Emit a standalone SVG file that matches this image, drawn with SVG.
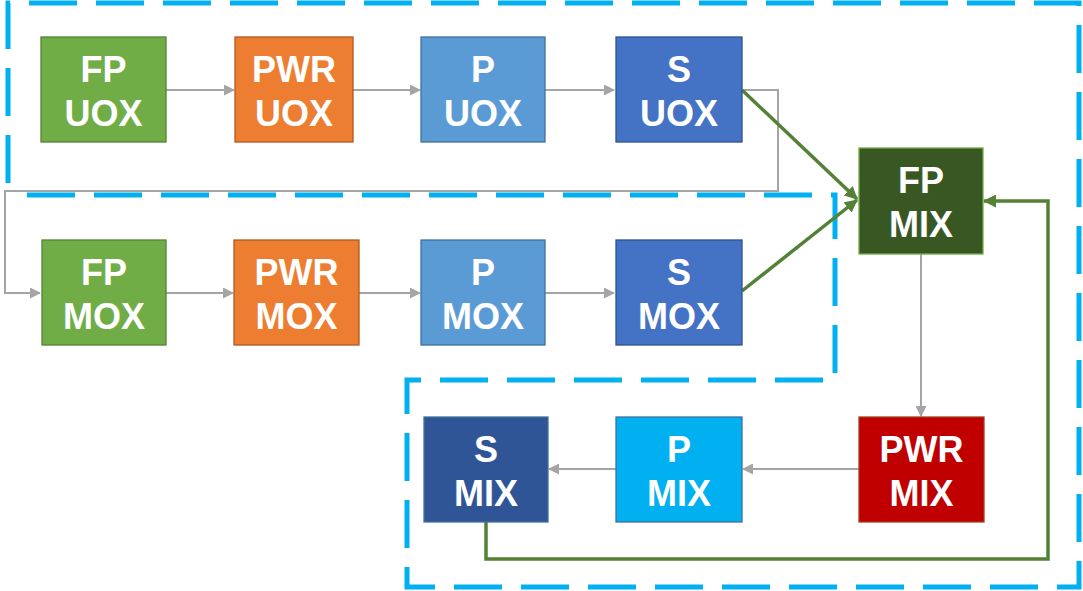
<svg xmlns="http://www.w3.org/2000/svg" width="1083" height="591" viewBox="0 0 1083 591">
<style>
.lbl{font-family:"Liberation Sans",Arial,sans-serif;font-weight:bold;font-size:36px;fill:#fff;text-anchor:middle}
.box{stroke-width:1.3}
.g{fill:none;stroke:#A5A5A5;stroke-width:2}
.gr{fill:none;stroke:#538135;stroke-width:3.5}
.dash{fill:none;stroke:#00B0F0;stroke-width:5;stroke-dasharray:48 19;stroke-dashoffset:55}
</style>
<defs>
<marker id="ag" markerUnits="userSpaceOnUse" markerWidth="11" markerHeight="11" refX="10" refY="5.5" orient="auto"><path d="M0,0 L11,5.5 L0,11 z" fill="#A5A5A5"/></marker>
<marker id="agr" markerUnits="userSpaceOnUse" markerWidth="13" markerHeight="13" refX="12" refY="6.5" orient="auto"><path d="M0,0 L13,6.5 L0,13 z" fill="#538135"/></marker>
</defs>
<rect width="1083" height="591" fill="#fff"/>
<path class="dash" d="M8,195 V3 H1079 V587 H407 V380 H835 V195 Z"/>
<g id="connectors">
<path class="g" d="M166,90 H234" marker-end="url(#ag)"/>
<path class="g" d="M353,90 H420" marker-end="url(#ag)"/>
<path class="g" d="M545,90 H614" marker-end="url(#ag)"/>
<path class="g" d="M742,90 H778 V191 H5 V293 H40" marker-end="url(#ag)"/>
<path class="g" d="M166,293 H233" marker-end="url(#ag)"/>
<path class="g" d="M359,293 H420" marker-end="url(#ag)"/>
<path class="g" d="M545,293 H614" marker-end="url(#ag)"/>
<path class="gr" d="M742,90 L857,199" marker-end="url(#agr)"/>
<path class="gr" d="M742,291 L857,200" marker-end="url(#agr)"/>
<path class="g" d="M921,254 V416" marker-end="url(#ag)"/>
<path class="g" d="M859,469 H743" marker-end="url(#ag)"/>
<path class="g" d="M616,469 H549" marker-end="url(#ag)"/>
<path class="gr" d="M486,522 V559 H1048 V201 H984" marker-end="url(#agr)"/>
</g>
<g id="fp-uox"><rect class="box" x="41" y="37" width="125" height="105" fill="#70AD47" stroke="#548235"/><text class="lbl" x="103.5" y="82">FP</text><text class="lbl" x="103.5" y="126">UOX</text></g>
<g id="pwr-uox"><rect class="box" x="235" y="37" width="118" height="105" fill="#ED7D31" stroke="#AE5A21"/><text class="lbl" x="294" y="82">PWR</text><text class="lbl" x="294" y="126">UOX</text></g>
<g id="p-uox"><rect class="box" x="421" y="37" width="124" height="105" fill="#5B9BD5" stroke="#41719C"/><text class="lbl" x="483" y="82">P</text><text class="lbl" x="483" y="126">UOX</text></g>
<g id="s-uox"><rect class="box" x="616" y="37" width="126" height="105" fill="#4472C4" stroke="#2F528F"/><text class="lbl" x="679" y="82">S</text><text class="lbl" x="679" y="126">UOX</text></g>
<g id="fp-mox"><rect class="box" x="42" y="240" width="124" height="105" fill="#70AD47" stroke="#548235"/><text class="lbl" x="104" y="285">FP</text><text class="lbl" x="104" y="329">MOX</text></g>
<g id="pwr-mox"><rect class="box" x="234" y="240" width="125" height="105" fill="#ED7D31" stroke="#AE5A21"/><text class="lbl" x="296.5" y="285">PWR</text><text class="lbl" x="296.5" y="329">MOX</text></g>
<g id="p-mox"><rect class="box" x="421" y="240" width="124" height="105" fill="#5B9BD5" stroke="#41719C"/><text class="lbl" x="483" y="285">P</text><text class="lbl" x="483" y="329">MOX</text></g>
<g id="s-mox"><rect class="box" x="616" y="240" width="126" height="105" fill="#4472C4" stroke="#2F528F"/><text class="lbl" x="679" y="285">S</text><text class="lbl" x="679" y="329">MOX</text></g>
<g id="fp-mix"><rect class="box" x="859" y="148" width="124" height="106" fill="#385723" stroke="#70AD47"/><text class="lbl" x="921" y="193">FP</text><text class="lbl" x="921" y="237">MIX</text></g>
<g id="pwr-mix"><rect class="box" x="859" y="417" width="125" height="105" fill="#C00000" stroke="#A04020"/><text class="lbl" x="921.5" y="462">PWR</text><text class="lbl" x="921.5" y="506">MIX</text></g>
<g id="p-mix"><rect class="box" x="616" y="417" width="126" height="105" fill="#00B0F0" stroke="#41719C"/><text class="lbl" x="679" y="462">P</text><text class="lbl" x="679" y="506">MIX</text></g>
<g id="s-mix"><rect class="box" x="424" y="417" width="124" height="105" fill="#2F5597" stroke="#41719C"/><text class="lbl" x="486" y="462">S</text><text class="lbl" x="486" y="506">MIX</text></g>
</svg>
